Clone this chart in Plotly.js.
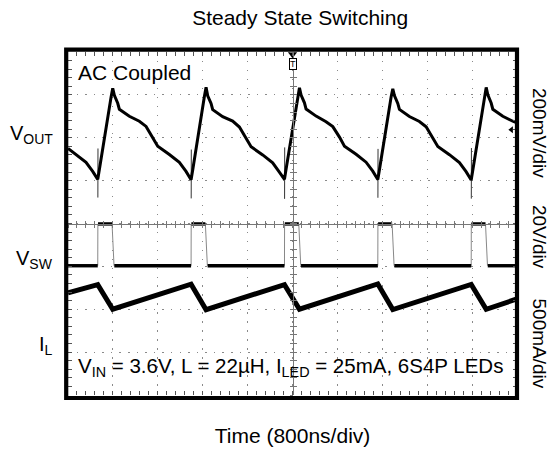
<!DOCTYPE html>
<html>
<head>
<meta charset="utf-8">
<script src="https://cdn.plot.ly/plotly-3.0.1.min.js"></script>
<style>html,body{margin:0;padding:0;background:#fff;}#chart{width:560px;height:453px;}</style>
</head>
<body>
<div id="chart"></div>
<script>
// ---- Data read from the scope capture (time in ns, trigger at 0) ----
const time_vout = [-4000, -3857, -3679, -3560,
  -3470, -3441, -3322, -3233, -3203, -3174, -3114, -3085, -2907, -2729, -2609, -2490, -2401, -2194, -2016, -1897,
  -1807, -1778, -1659, -1570, -1540, -1511, -1451, -1422, -1244, -1066, -946, -827, -738, -531, -353, -234,
  -143, -114, 5, 94, 124, 153, 213, 242, 420, 598, 718, 837, 926, 1133, 1311, 1430,
  1520, 1549, 1668, 1757, 1787, 1816, 1876, 1905, 2083, 2261, 2381, 2500, 2589, 2796, 2974, 3093,
  3184, 3213, 3332, 3421, 3451, 3480, 3540, 3569, 3747, 3925, 4000];
const vout_mV = [-50, -78, -115, -157,
  -194, -148, 53, 189, 231, 198, 161, 133, 100, 77, 53, 2, -40, -78, -115, -157,
  -196, -150, 55, 192, 236, 196, 160, 131, 98, 78, 50, 0, -42, -80, -117, -160,
  -194, -146, 52, 188, 233, 199, 163, 134, 101, 75, 52, 3, -39, -77, -114, -156,
  -195, -149, 54, 190, 228, 197, 160, 132, 99, 76, 51, 1, -41, -79, -116, -158,
  -197, -150, 53, 191, 235, 200, 162, 133, 100, 77, 70];
// switching spikes on VOUT (thin vertical glitches at each switch-off)
const time_vout_spike = [-3468, -3466, null, -1805, -1803, null, -141, -139, null, 1522, 1524, null, 3186, 3188];
const vout_spike_mV = [-279, -50, null, -283, -55, null, -285, -45, null, -280, -52, null, -284, -48];

const time_vsw = [-4000, -3470, null, -3465, -3215, null, -3175, -1807, null, -1802, -1552, null,
  -1512, -143, null, -138, 112, null, 152, 1520, null, 1525, 1775, null, 1815, 3184, null, 3189, 3439, null, 3479, 4000];
const vsw_V = [0.3, 0.3, null, 19.8, 19.8, null, 0.3, 0.3, null, 19.8, 19.8, null,
  0.3, 0.3, null, 19.8, 19.8, null, 0.3, 0.3, null, 19.8, 19.8, null, 0.3, 0.3, null, 19.8, 19.8, null, 0.3, 0.3];
const time_edges = [-3470, -3468, null, -3215, -3180, null, -1807, -1805, null, -1552, -1517, null,
  -143, -141, null, 112, 147, null, 1520, 1522, null, 1775, 1810, null, 3184, 3186, null, 3439, 3474];
const vsw_edges_V = [0.3, 19.8, null, 19.8, 0.3, null, 0.3, 19.8, null, 19.8, 0.3, null,
  0.3, 19.8, null, 19.8, 0.3, null, 0.3, 19.8, null, 19.8, 0.3, null, 0.3, 19.8, null, 19.8, 0.3];

const time_il = [-4000, -3470, -3203, -1807, -1540, -143, 124, 1520, 1787, 3184, 3451, 4000];
const il_mA = [690, 787, 500, 792, 495, 787, 500, 795, 497, 790, 500, 620];

const channelLabels = ['V<sub>OUT</sub>', 'V<sub>SW</sub>', 'I<sub>L</sub>'];
const scaleLabels = ['200mV/div', '20V/div', '500mA/div'];
const chartTitle = 'Steady State Switching';
const xTitle = 'Time (800ns/div)';
const noteTop = 'AC Coupled';
const noteBottom = 'V<sub>IN</sub> = 3.6V, L = 22µH, I<sub>LED</sub> = 25mA, 6S4P LEDs';
const triggerLevel_mV = 37;

// ---- Chart ----
const FONT = 'Liberation Sans, Arial, Helvetica, sans-serif';
const tickC = '#555';
const centerC = '#777';

const traces = [
  {x: time_vout_spike, y: vout_spike_mV, xaxis: 'x', yaxis: 'y', mode: 'lines', line: {color: '#333', width: 1}, hoverinfo: 'skip'},
  {x: time_vout, y: vout_mV, xaxis: 'x', yaxis: 'y', mode: 'lines', line: {color: '#000', width: 3}, hoverinfo: 'skip'},
  {x: time_edges, y: vsw_edges_V, xaxis: 'x', yaxis: 'y2', mode: 'lines', line: {color: '#888', width: 1}, hoverinfo: 'skip'},
  {x: time_vsw, y: vsw_V, xaxis: 'x', yaxis: 'y2', mode: 'lines', line: {color: '#000', width: 3.4}, hoverinfo: 'skip'},
  {x: time_il, y: il_mA, xaxis: 'x', yaxis: 'y3', mode: 'lines', line: {color: '#000', width: 5}, hoverinfo: 'skip'},
  // channel ground markers on left edge
  {x: [-4070], y: [0], xaxis: 'x', yaxis: 'y', mode: 'markers', marker: {symbol: 'triangle-right', size: 8, color: '#000'}, cliponaxis: false, hoverinfo: 'skip'},
  {x: [-4070], y: [0], xaxis: 'x', yaxis: 'y2', mode: 'markers', marker: {symbol: 'triangle-right', size: 8, color: '#000'}, cliponaxis: false, hoverinfo: 'skip'},
  {x: [-4070], y: [0], xaxis: 'x', yaxis: 'y3', mode: 'markers', marker: {symbol: 'triangle-right', size: 8, color: '#000'}, cliponaxis: false, hoverinfo: 'skip'},
  // trigger position and level markers
  {x: [0], y: [390], xaxis: 'x', yaxis: 'y', mode: 'markers', marker: {symbol: 'triangle-down', size: 8, color: '#000'}, cliponaxis: false, hoverinfo: 'skip'},
  {x: [3900], y: [triggerLevel_mV], xaxis: 'x', yaxis: 'y', mode: 'markers', marker: {symbol: 'triangle-left', size: 6, color: '#000'}, cliponaxis: false, hoverinfo: 'skip'},
  // empty traces to register the centre graticule axes
  {x: [], y: [], xaxis: 'x2', yaxis: 'y', hoverinfo: 'skip'},
  {x: [], y: [], xaxis: 'x3', yaxis: 'y', hoverinfo: 'skip'},
  {x: [], y: [], xaxis: 'x', yaxis: 'y4', hoverinfo: 'skip'},
  {x: [], y: [], xaxis: 'x', yaxis: 'y5', hoverinfo: 'skip'}
];

const centerX = (ticks) => ({
  overlaying: 'x', anchor: 'free', position: 0.5, range: [-4000, 4000],
  showline: true, linecolor: centerC, linewidth: 1, showgrid: false, zeroline: false,
  ticks: ticks, ticklen: 3, tickcolor: centerC, tickwidth: 1, dtick: 800, tick0: 0, showticklabels: false,
  minor: {dtick: 160, ticks: ticks, ticklen: 3, tickcolor: centerC, tickwidth: 1, showgrid: false},
  fixedrange: true
});
const centerY = (ticks) => ({
  overlaying: 'y', anchor: 'free', position: 0.5, range: [-4, 4],
  showline: true, linecolor: centerC, linewidth: 1, showgrid: false, zeroline: false,
  ticks: ticks, ticklen: 3, tickcolor: centerC, tickwidth: 1, dtick: 1, tick0: 0, showticklabels: false,
  minor: {dtick: 0.2, ticks: ticks, ticklen: 3, tickcolor: centerC, tickwidth: 1, showgrid: false},
  fixedrange: true
});

const layout = {
  width: 560, height: 453,
  margin: {l: 68, r: 43, t: 52, b: 58, pad: 0},
  paper_bgcolor: '#fff', plot_bgcolor: '#fff',
  showlegend: false,
  font: {family: FONT, color: '#000'},
  title: {text: chartTitle, font: {family: FONT, size: 21, color: '#000'}, x: 0.536, xref: 'container', xanchor: 'center', y: 0.962, yref: 'container', yanchor: 'middle'},
  xaxis: {
    range: [-4000, 4000], dtick: 800, tick0: 0, showticklabels: false, zeroline: false, showline: false,
    showgrid: true, gridcolor: '#8a8a8a', gridwidth: 1, griddash: '1.5px,7.48px',
    ticks: 'inside', ticklen: 4, tickcolor: tickC, tickwidth: 1, mirror: 'ticks',
    minor: {dtick: 160, ticks: 'inside', ticklen: 4, tickcolor: tickC, tickwidth: 1, showgrid: false},
    title: {text: xTitle, font: {family: FONT, size: 21, color: '#000'}, standoff: 33},
    fixedrange: true
  },
  yaxis: {
    range: [-1200, 400], dtick: 200, tick0: 0, showticklabels: false, zeroline: false, showline: false,
    showgrid: true, gridcolor: '#8a8a8a', gridwidth: 1, griddash: '1.5px,7.08px',
    ticks: 'inside', ticklen: 4, tickcolor: tickC, tickwidth: 1, mirror: 'ticks',
    minor: {dtick: 40, ticks: 'inside', ticklen: 4, tickcolor: tickC, tickwidth: 1, showgrid: false},
    fixedrange: true
  },
  yaxis2: {overlaying: 'y', range: [-60, 100], visible: false, fixedrange: true},
  yaxis3: {overlaying: 'y', range: [-500, 3500], visible: false, fixedrange: true},
  xaxis2: centerX('outside'),
  xaxis3: centerX('inside'),
  yaxis4: centerY('outside'),
  yaxis5: centerY('inside'),
  shapes: [
    {type: 'rect', xref: 'paper', yref: 'paper', x0: -0.004, x1: 1.0, y0: -0.0087, y1: 1.007,
     line: {color: '#000', width: 4.2}, fillcolor: 'rgba(0,0,0,0)', layer: 'above'}
  ],
  annotations: [
    {text: noteTop, xref: 'paper', yref: 'paper', x: 0.018, y: 0.94, xanchor: 'left', yanchor: 'middle', showarrow: false, font: {family: FONT, size: 21}},
    {text: noteBottom, xref: 'paper', yref: 'paper', x: 0.018, y: 0.082, xanchor: 'left', yanchor: 'middle', showarrow: false, font: {family: FONT, size: 20.5}},
    {text: channelLabels[0], xref: 'paper', yref: 'y', x: -0.028, y: 0, yshift: 3, xanchor: 'right', yanchor: 'middle', showarrow: false, font: {family: FONT, size: 20}},
    {text: channelLabels[1], xref: 'paper', yref: 'y2', x: -0.028, y: 0, yshift: 7, xanchor: 'right', yanchor: 'middle', showarrow: false, font: {family: FONT, size: 20}},
    {text: channelLabels[2], xref: 'paper', yref: 'y3', x: -0.028, y: 0, yshift: 7, xanchor: 'right', yanchor: 'middle', showarrow: false, font: {family: FONT, size: 20}},
    {text: scaleLabels[0], xref: 'paper', yref: 'paper', x: 1.049, y: 0.764, xanchor: 'center', yanchor: 'middle', textangle: 90, showarrow: false, font: {family: FONT, size: 19}},
    {text: scaleLabels[1], xref: 'paper', yref: 'paper', x: 1.049, y: 0.461, xanchor: 'center', yanchor: 'middle', textangle: 90, showarrow: false, font: {family: FONT, size: 19}},
    {text: scaleLabels[2], xref: 'paper', yref: 'paper', x: 1.049, y: 0.15, xanchor: 'center', yanchor: 'middle', textangle: 90, showarrow: false, font: {family: FONT, size: 19}},
    {text: 'T', xref: 'x', yref: 'paper', x: 0, y: 1, xanchor: 'center', yanchor: 'top', yshift: -6, showarrow: false,
     font: {family: FONT, size: 9, color: '#000'}, bordercolor: '#000', borderwidth: 1, borderpad: 0, bgcolor: '#fff'}
  ]
};

Plotly.newPlot('chart', traces, layout, {staticPlot: true, displayModeBar: false});
</script>
</body>
</html>
